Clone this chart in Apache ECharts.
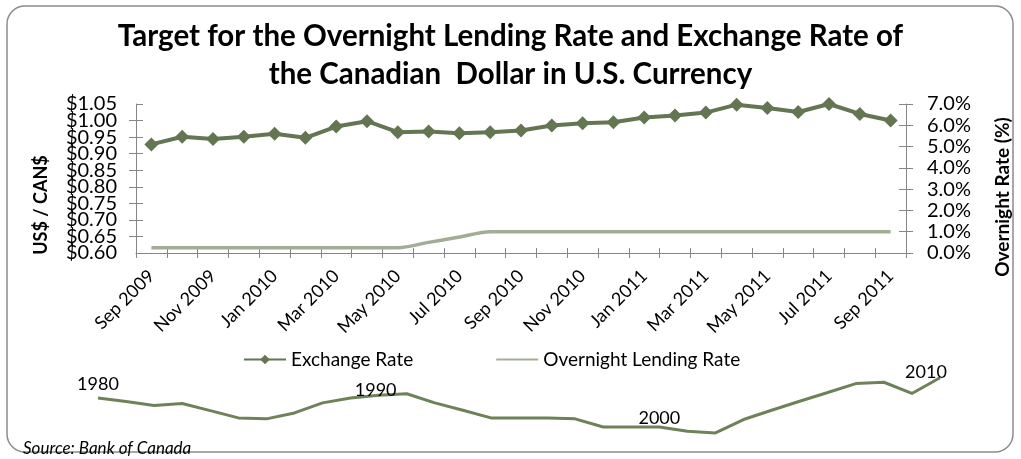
<!DOCTYPE html>
<html>
<head>
<meta charset="utf-8">
<style>
  html, body { margin: 0; padding: 0; background: #fff; }
  #chart { width: 1021px; height: 459px; }
</style>
<script src="https://cdn.jsdelivr.net/npm/echarts@6/dist/echarts.min.js"></script>
</head>
<body>
<div id="chart"></div>
<script>
// monthly series, Sep 2009 - Sep 2011
const months = ['Sep 2009', 'Oct 2009', 'Nov 2009', 'Dec 2009', 'Jan 2010', 'Feb 2010', 'Mar 2010', 'Apr 2010',
  'May 2010', 'Jun 2010', 'Jul 2010', 'Aug 2010', 'Sep 2010', 'Oct 2010', 'Nov 2010', 'Dec 2010', 'Jan 2011',
  'Feb 2011', 'Mar 2011', 'Apr 2011', 'May 2011', 'Jun 2011', 'Jul 2011', 'Aug 2011', 'Sep 2011']
const exchangeRate = [0.928, 0.951, 0.944, 0.951, 0.960, 0.948, 0.982, 0.998, 0.965, 0.967, 0.962, 0.965, 0.970,
  0.985, 0.992, 0.995, 1.009, 1.015, 1.024, 1.048, 1.038, 1.026, 1.050, 1.020, 1.000]
const overnightRate = [0.25, 0.25, 0.25, 0.25, 0.25, 0.25, 0.25, 0.25, 0.25, 0.5, 0.75, 1.0, 1.0,
  1.0, 1.0, 1.0, 1.0, 1.0, 1.0, 1.0, 1.0, 1.0, 1.0, 1.0, 1.0]

// the small annual line under the legend, 1980 - 2010
const years = ['1980', '1981', '1982', '1983', '1984', '1985', '1986', '1987', '1988', '1989', '1990', '1991',
  '1992', '1993', '1994', '1995', '1996', '1997', '1998', '1999', '2000', '2001', '2002', '2003', '2004', '2005',
  '2006', '2007', '2008', '2009', '2010']
const annualRate = [0.849, 0.827, 0.803, 0.815, 0.772, 0.728, 0.722, 0.758, 0.819, 0.849, 0.865, 0.874, 0.819,
  0.774, 0.728, 0.728, 0.728, 0.722, 0.673, 0.673, 0.673, 0.647, 0.637, 0.718, 0.774, 0.829, 0.882, 0.936, 0.944,
  0.876, 0.971]
const labelledYears = ['1980', '1990', '2000', '2010']

const FONT = 'Lato'
const AXIS_GREY = '#868686'
const DARK_GREEN = '#647552'
const LIGHT_GREEN = '#a3ad95'
const USD_MIN = 0.6
const USD_MAX = 1.05

let dom = document.getElementById('chart')
let myChart = echarts.init(dom, null, { renderer: 'canvas' })

// label placement for the labelled years (offset relative to the point)
const yearLabelOffset = {
  '1980': [0, 0],
  '1990': [-3, 9],
  '2000': [0, 5],
  '2010': [-14, 8]
}

let annualData = annualRate.map((v, i) => {
  let y = years[i]
  if (labelledYears.indexOf(y) < 0) return v
  return {
    value: v,
    label: {
      show: true,
      position: 'top',
      distance: 5,
      offset: yearLabelOffset[y],
      formatter: y,
      color: '#000',
      fontFamily: FONT,
      fontSize: 18
    }
  }
})

function usd(v) {
  return '$' + v.toFixed(2)
}

const usdLabel = {
  margin: 19,
  color: '#000',
  fontFamily: FONT,
  fontSize: 20
}

// tick axes that only draw the inner half of the crossing tick marks
function innerY(pos, min, max, interval, label) {
  return {
    type: 'value', gridIndex: 0, position: pos, min: min, max: max, interval: interval,
    axisLine: { show: false },
    axisTick: { show: true, inside: true, length: 7, lineStyle: { color: AXIS_GREY } },
    axisLabel: label || { show: false },
    splitLine: { show: false }
  }
}

let option = {
  backgroundColor: '#fff',
  animation: false,
  title: {
    text: 'Target for the Overnight Lending Rate and Exchange Rate of\nthe Canadian  Dollar in U.S. Currency',
    left: 'center',
    top: 12,
    padding: [5, 0, 5, 16],
    textStyle: {
      fontFamily: FONT,
      fontWeight: 'bold',
      fontSize: 29.5,
      lineHeight: 38,
      color: '#000'
    }
  },
  legend: {
    left: 238,
    top: 345,
    itemWidth: 42,
    itemHeight: 12,
    itemGap: 82,
    textStyle: { fontFamily: FONT, fontSize: 19, color: '#000' },
    data: [
      'Exchange Rate',
      { name: 'Overnight Lending Rate', itemStyle: { opacity: 0 } }
    ]
  },
  grid: [
    { left: 136, right: 115, top: 104, height: 149 },
    { left: 98, right: 81, top: 373, height: 66 }
  ],
  xAxis: [
    {
      type: 'category',
      gridIndex: 0,
      data: months,
      boundaryGap: true,
      axisLine: { lineStyle: { color: AXIS_GREY, width: 1 } },
      axisTick: { show: true, length: 5, interval: 0, lineStyle: { color: AXIS_GREY } },
      axisLabel: {
        interval: 1,
        rotate: 45,
        margin: 20,
        color: '#000',
        fontFamily: FONT,
        fontSize: 18
      },
      splitLine: { show: false }
    },
    {
      type: 'category',
      gridIndex: 0,
      data: months,
      boundaryGap: true,
      position: 'bottom',
      axisLine: { show: false },
      axisTick: { show: true, inside: true, length: 5, interval: 0, lineStyle: { color: AXIS_GREY } },
      axisLabel: { show: false },
      splitLine: { show: false }
    },
    {
      type: 'category',
      gridIndex: 1,
      data: years,
      boundaryGap: false,
      show: false
    }
  ],
  yAxis: [
    {
      type: 'value',
      gridIndex: 0,
      position: 'left',
      min: USD_MIN,
      max: USD_MAX,
      interval: 0.05,
      axisLine: { show: true, lineStyle: { color: AXIS_GREY, width: 1 } },
      axisTick: { show: true, length: 7, lineStyle: { color: AXIS_GREY } },
      // inner labels here, the two end labels come from the tick axis below
      axisLabel: Object.assign({}, usdLabel, {
        showMinLabel: false,
        showMaxLabel: false,
        formatter: usd
      }),
      splitLine: { show: false }
    },
    {
      type: 'value',
      gridIndex: 0,
      position: 'right',
      min: 0,
      max: 7,
      interval: 1,
      axisLine: { show: true, lineStyle: { color: AXIS_GREY, width: 1 } },
      axisTick: { show: true, length: 7, lineStyle: { color: AXIS_GREY } },
      axisLabel: {
        margin: 21,
        color: '#000',
        fontFamily: FONT,
        fontSize: 20,
        showMinLabel: true,
        showMaxLabel: true,
        formatter: v => v.toFixed(1) + '%'
      },
      splitLine: { show: false }
    },
    innerY('left', USD_MIN, USD_MAX, 0.05, Object.assign({}, usdLabel, {
      show: true,
      showMinLabel: true,
      showMaxLabel: true,
      formatter: v => (Math.abs(v - USD_MIN) < 1e-6 || Math.abs(v - USD_MAX) < 1e-6) ? usd(v) : ''
    })),
    innerY('right', 0, 7, 1),
    {
      type: 'value',
      gridIndex: 1,
      min: 0.6,
      max: 1.0,
      show: false
    }
  ],
  graphic: [
    {
      type: 'rect',
      shape: { x: 7, y: 6, width: 1006, height: 446, r: 18 },
      style: { fill: 'none', stroke: '#8c8c8c', lineWidth: 1.5 },
      silent: true,
      z: -1
    },
    {
      type: 'text',
      x: 41,
      y: 205,
      rotation: Math.PI / 2,
      style: {
        text: 'US$ / CAN$',
        fontFamily: FONT,
        fontWeight: 'bold',
        fontSize: 18,
        fill: '#000',
        align: 'center',
        verticalAlign: 'middle'
      }
    },
    {
      type: 'text',
      x: 1003,
      y: 197,
      rotation: Math.PI / 2,
      style: {
        text: 'Overnight Rate (%)',
        fontFamily: FONT,
        fontWeight: 'bold',
        fontSize: 19,
        fill: '#000',
        align: 'center',
        verticalAlign: 'middle'
      }
    },
    {
      type: 'text',
      x: 23,
      y: 449,
      style: {
        text: 'Source: Bank of Canada',
        fontFamily: FONT,
        fontStyle: 'italic',
        fontSize: 17,
        fill: '#000',
        verticalAlign: 'middle'
      }
    }
  ],
  series: [
    {
      name: 'Exchange Rate',
      type: 'line',
      xAxisIndex: 0,
      yAxisIndex: 0,
      data: exchangeRate,
      symbol: 'diamond',
      symbolSize: 14,
      lineStyle: { color: DARK_GREEN, width: 4 },
      itemStyle: { color: DARK_GREEN },
      z: 3
    },
    {
      name: 'Overnight Lending Rate',
      type: 'line',
      xAxisIndex: 0,
      yAxisIndex: 1,
      data: overnightRate,
      symbol: 'none',
      smooth: 0.3,
      lineStyle: { color: LIGHT_GREEN, width: 3.5 },
      itemStyle: { color: LIGHT_GREEN },
      z: 2
    },
    {
      name: 'Annual',
      type: 'line',
      xAxisIndex: 2,
      yAxisIndex: 4,
      data: annualData,
      symbol: 'circle',
      symbolSize: 0,
      showSymbol: true,
      lineStyle: { color: '#6d8259', width: 3 },
      itemStyle: { color: '#6d8259' },
      silent: true
    }
  ]
}

myChart.setOption(option)
window.addEventListener('resize', () => {
  if (myChart) myChart.resize()
})
</script>
</body>
</html>
